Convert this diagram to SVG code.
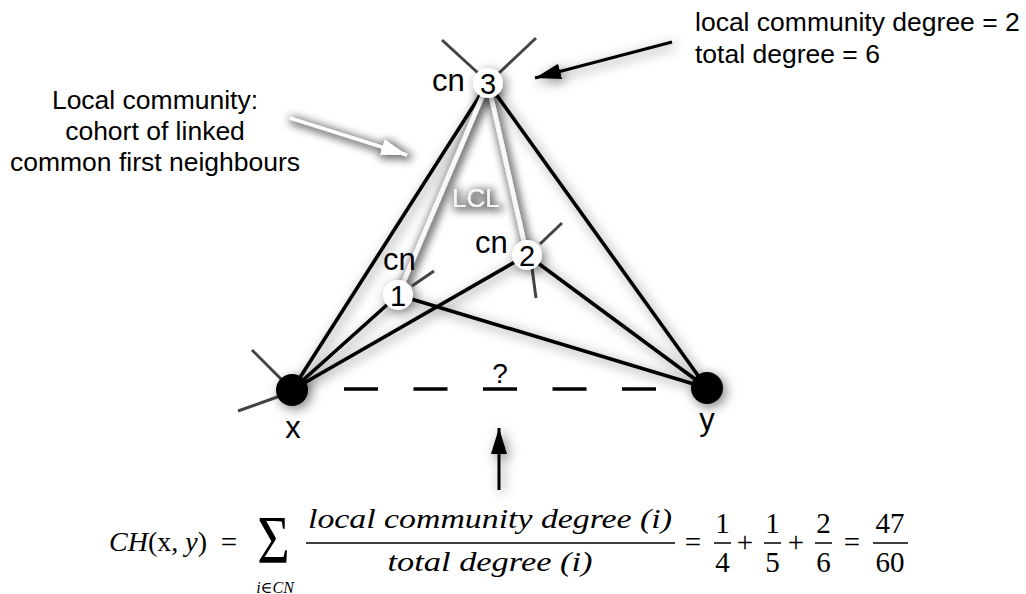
<svg xmlns="http://www.w3.org/2000/svg" width="1026" height="594" viewBox="0 0 1026 594">
<style>
.sans{font-family:"Liberation Sans",Arial,sans-serif;fill:#000}
.big{font-size:31px}
.note{font-size:26.5px}
.num{font-size:29px;text-anchor:middle}
.edge{stroke:#000;stroke-width:3.6;stroke-linecap:round;fill:none}
.lcl{stroke:#f8f8f8;stroke-width:4.5;fill:none}
.stub{stroke:#444;stroke-width:3;stroke-linecap:butt}
.math{font-family:"Liberation Serif","DejaVu Serif",serif;font-style:italic;font-size:28px;fill:#000}
.mnum{font-family:"Liberation Serif","DejaVu Serif",serif;font-size:29px;text-anchor:middle;fill:#000}
.bar{stroke:#000;stroke-width:1.5}
.wnode{fill:#fff}
.bnode{fill:#000}
</style>
<defs>
<filter id="sh" filterUnits="userSpaceOnUse" x="0" y="0" width="1026" height="594">
<feDropShadow dx="3" dy="3" stdDeviation="6" flood-color="#000" flood-opacity="0.5"/>
</filter>
<filter id="shw" filterUnits="userSpaceOnUse" x="0" y="0" width="1026" height="594">
<feMorphology in="SourceAlpha" operator="dilate" radius="1.5" result="d"/>
<feGaussianBlur in="d" stdDeviation="4" result="b"/>
<feOffset in="b" dx="2" dy="2" result="o"/>
<feFlood flood-color="#000" flood-opacity="0.6"/>
<feComposite in2="o" operator="in" result="s"/>
<feMerge><feMergeNode in="s"/><feMergeNode in="SourceGraphic"/></feMerge>
</filter>
<marker id="ah" markerUnits="userSpaceOnUse" markerWidth="28" markerHeight="18" refX="26" refY="9" orient="auto">
<path d="M0,1 L26,9 L0,17 z" fill="#000"/>
</marker>
<marker id="ahw" markerUnits="userSpaceOnUse" markerWidth="28" markerHeight="18" refX="26" refY="9" orient="auto">
<path d="M0,1 L26,9 L0,17 z" fill="#fff"/>
</marker>
</defs>
<rect width="1026" height="594" fill="#fff"/>

<g id="connectors">
<g filter="url(#sh)">
<line class="edge" x1="488" y1="83" x2="292" y2="390"/>
<line class="edge" x1="488" y1="83" x2="707" y2="388"/>
<line class="edge" x1="398" y1="295" x2="292" y2="390"/>
<line class="edge" x1="527" y1="255" x2="292" y2="390"/>
<line class="edge" x1="398" y1="295" x2="707" y2="388"/>
<line class="edge" x1="527" y1="255" x2="707" y2="388"/>
</g>
<g filter="url(#shw)">
<line class="lcl" x1="488" y1="83" x2="398" y2="295"/>
<line class="lcl" x1="488" y1="83" x2="527" y2="255"/>
</g>
</g>
<g id="missing-link">
<line x1="344" y1="389" x2="658" y2="389" stroke="#000" stroke-width="3.5" stroke-dasharray="34 35.5"/>
<text class="sans" x="500" y="383" font-size="28" text-anchor="middle">?</text>
</g>
<text id="lcl-label" x="452" y="207" font-family="Liberation Sans, Arial, sans-serif" font-size="26" fill="#f6f6f6" filter="url(#shw)">LCL</text>

<g id="node-3">
<line class="stub" x1="442" y1="40" x2="478" y2="73"/>
<line class="stub" x1="536" y1="38" x2="499" y2="73"/>
<circle class="wnode" cx="488" cy="83" r="15" filter="url(#sh)"/>
<text class="sans num" x="488" y="93.5">3</text>
<text class="sans big" x="432" y="91">cn</text>
</g>
<g id="node-1">
<line class="stub" x1="412" y1="286" x2="434" y2="271"/>
<circle class="wnode" cx="398" cy="295" r="15" filter="url(#sh)"/>
<text class="sans num" x="398" y="305.5">1</text>
<text class="sans big" x="383" y="270">cn</text>
</g>
<g id="node-2">
<line class="stub" x1="540" y1="244" x2="562" y2="223"/>
<line class="stub" x1="532" y1="268" x2="536" y2="298"/>
<circle class="wnode" cx="527" cy="255" r="15" filter="url(#sh)"/>
<text class="sans num" x="527" y="265.5">2</text>
<text class="sans big" x="475" y="253">cn</text>
</g>
<g id="node-x">
<line class="stub" x1="252" y1="350" x2="282" y2="380"/>
<line class="stub" x1="238" y1="411" x2="280" y2="396"/>
<circle class="bnode" cx="292" cy="390" r="16" filter="url(#sh)"/>
<text class="sans big" x="293" y="438" text-anchor="middle">x</text>
</g>
<g id="node-y">
<circle class="bnode" cx="707" cy="388" r="16" filter="url(#sh)"/>
<text class="sans big" x="707" y="430" text-anchor="middle">y</text>
</g>

<g id="note-community">
<text class="sans note" x="155" y="109" text-anchor="middle">Local community:</text>
<text class="sans note" x="155" y="140" text-anchor="middle">cohort of linked</text>
<text class="sans note" x="155" y="171" text-anchor="middle">common first neighbours</text>
</g>
<g id="note-degree">
<text class="sans note" x="695" y="31">local community degree = 2</text>
<text class="sans note" x="695" y="63">total degree = 6</text>
</g>

<g id="annotation-arrows">
<line x1="290" y1="118" x2="407" y2="155" stroke="#fff" stroke-width="3" marker-end="url(#ahw)" filter="url(#shw)"/>
<g filter="url(#sh)">
<line x1="672" y1="42" x2="535" y2="78" stroke="#000" stroke-width="3" marker-end="url(#ah)"/>
<line x1="499" y1="490" x2="499" y2="428" stroke="#000" stroke-width="3" marker-end="url(#ah)"/>
</g>
</g>

<g id="formula">
<text class="math" x="207" y="551" text-anchor="end">CH<tspan style="font-style:normal">(x, </tspan>y<tspan style="font-style:normal">)</tspan></text>
<text class="mnum" x="229" y="552">=</text>
<text class="mnum" transform="translate(273.5,562) scale(0.9,1.1)" x="0" y="0" style="font-size:62px">Σ</text>
<text class="math" x="275" y="593" text-anchor="middle" style="font-size:16px">i∈CN</text>
<text class="math" x="490" y="528" text-anchor="middle" textLength="364" lengthAdjust="spacingAndGlyphs">local community degree (i)</text>
<line class="bar" x1="306" y1="543" x2="675" y2="543"/>
<text class="math" x="490" y="571" text-anchor="middle" textLength="205" lengthAdjust="spacingAndGlyphs">total degree (i)</text>
<text class="mnum" x="693" y="552">=</text>
<text class="mnum" x="722.5" y="533">1</text>
<line class="bar" x1="714" y1="543" x2="731" y2="543"/>
<text class="mnum" x="722.5" y="572">4</text>
<text class="mnum" x="745" y="552">+</text>
<text class="mnum" x="772.5" y="533">1</text>
<line class="bar" x1="764" y1="543" x2="781" y2="543"/>
<text class="mnum" x="772.5" y="572">5</text>
<text class="mnum" x="796" y="552">+</text>
<text class="mnum" x="823.5" y="533">2</text>
<line class="bar" x1="815" y1="543" x2="832" y2="543"/>
<text class="mnum" x="823.5" y="572">6</text>
<text class="mnum" x="852" y="552">=</text>
<text class="mnum" x="890" y="533">47</text>
<line class="bar" x1="873" y1="543" x2="908" y2="543"/>
<text class="mnum" x="890" y="572">60</text>
</g>
</svg>
